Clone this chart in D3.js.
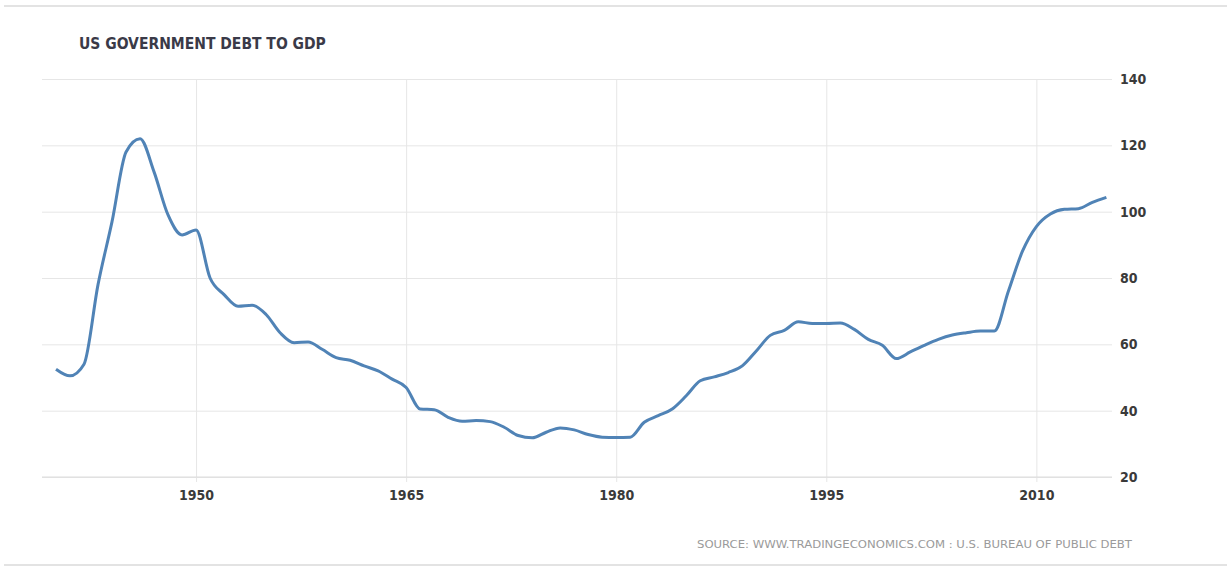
<!DOCTYPE html>
<html>
<head>
<meta charset="utf-8">
<script src="https://cdn.jsdelivr.net/npm/d3@7"></script>
<style>
  body { margin: 0; background: #fff; }
  svg { display: block; }
  text { font-family: "DejaVu Sans Condensed", "DejaVu Sans", sans-serif; font-stretch: condensed; }
</style>
</head>
<body>
<div id="chart"></div>
<script>
// US government debt to GDP, % (annual)
const years = [1940, 1941, 1942, 1943, 1944, 1945, 1946, 1947, 1948, 1949,
               1950, 1951, 1952, 1953, 1954, 1955, 1956, 1957, 1958, 1959,
               1960, 1961, 1962, 1963, 1964, 1965, 1966, 1967, 1968, 1969,
               1970, 1971, 1972, 1973, 1974, 1975, 1976, 1977, 1978, 1979,
               1980, 1981, 1982, 1983, 1984, 1985, 1986, 1987, 1988, 1989,
               1990, 1991, 1992, 1993, 1994, 1995, 1996, 1997, 1998, 1999,
               2000, 2001, 2002, 2003, 2004, 2005, 2006, 2007, 2008, 2009,
               2010, 2011, 2012, 2013, 2014, 2015];
const debtToGdp = [52.5, 50.5, 54, 78, 97, 118, 122, 112, 99, 93,
                   94.5, 80, 75, 71.5, 71.8, 69, 63.5, 60.5, 60.7, 58.5,
                   56, 55.2, 53.5, 52, 49.5, 47, 40.5, 40.3, 38, 36.8,
                   37, 36.7, 35, 32.5, 31.8, 33.5, 34.8, 34.2, 32.8, 32,
                   31.9, 32, 36.5, 38.5, 40.5, 44.5, 49, 50.2, 51.5, 53.5,
                   58, 62.7, 64.2, 66.8, 66.3, 66.3, 66.4, 64.5, 61.5, 59.7,
                   55.7, 57.7, 59.7, 61.5, 62.8, 63.5, 64, 64, 76, 88,
                   95.5, 99.3, 100.7, 100.9, 102.8, 104.3];
const xTicks = [1950, 1965, 1980, 1995, 2010];
const yTicks = [20, 40, 60, 80, 100, 120, 140];

const title = "US GOVERNMENT DEBT TO GDP";
const source = "SOURCE: WWW.TRADINGECONOMICS.COM : U.S. BUREAU OF PUBLIC DEBT";

const W = 1231, H = 567;
const plot = { left: 42, right: 1112, top: 79, bottom: 477 };

const svg = d3.select("#chart")
  .append("svg")
  .attr("width", W)
  .attr("height", H);

// frame lines top and bottom
svg.append("line")
  .attr("x1", 4).attr("x2", W - 4).attr("y1", 6).attr("y2", 6)
  .attr("stroke", "#e3e3e3").attr("stroke-width", 2);
svg.append("line")
  .attr("x1", 4).attr("x2", W - 4).attr("y1", 565).attr("y2", 565)
  .attr("stroke", "#e3e3e3").attr("stroke-width", 2);

const x = d3.scaleLinear()
  .domain([1939, 2015.4])
  .range([plot.left, plot.right]);

const y = d3.scaleLinear()
  .domain([20, 140])
  .range([plot.bottom, plot.top]);

// horizontal grid + right labels
const yAxis = d3.axisRight(y)
  .tickValues(yTicks)
  .tickSize(-(plot.right - plot.left))
  .tickPadding(10);

const yG = svg.append("g")
  .attr("transform", `translate(${plot.right},0)`)
  .call(yAxis);
yG.select(".domain").remove();
yG.selectAll(".tick line").attr("stroke", "#e6e6e6");
yG.selectAll(".tick text")
  .attr("x", 8)
  .attr("fill", "#3a3a3a")
  .attr("font-size", 14)
  .attr("font-weight", "bold");

// vertical grid + bottom labels
const xAxis = d3.axisBottom(x)
  .tickValues(xTicks)
  .tickFormat(d3.format("d"))
  .tickSize(-(plot.bottom - plot.top))
  .tickPadding(13);

const xG = svg.append("g")
  .attr("transform", `translate(0,${plot.bottom})`)
  .call(xAxis);
xG.select(".domain").remove();
xG.selectAll(".tick line")
  .attr("y1", 5)
  .attr("stroke", "#e6e6e6");
xG.selectAll(".tick text")
  .attr("fill", "#3a3a3a")
  .attr("font-size", 14)
  .attr("font-weight", "bold");

// baseline
svg.append("line")
  .attr("x1", plot.left).attr("x2", plot.right)
  .attr("y1", y(20)).attr("y2", y(20))
  .attr("stroke", "#dcdcdc");

// the series
const line = d3.line()
  .x((d, i) => x(years[i]))
  .y(d => y(d))
  .curve(d3.curveMonotoneX);

svg.append("path")
  .datum(debtToGdp)
  .attr("d", line)
  .attr("fill", "none")
  .attr("stroke", "#5083b6")
  .attr("stroke-width", 3)
  .attr("stroke-linejoin", "round");

// title and source
svg.append("text")
  .attr("x", 79)
  .attr("y", 49)
  .attr("fill", "#3a3a48")
  .attr("font-size", 15.5)
  .attr("font-weight", "bold")
  .text(title);

svg.append("text")
  .attr("x", 697)
  .attr("y", 548)
  .attr("fill", "#9a9a9a")
  .attr("font-size", 11)
  .attr("textLength", 435)
  .attr("lengthAdjust", "spacingAndGlyphs")
  .text(source);
</script>
</body>
</html>
